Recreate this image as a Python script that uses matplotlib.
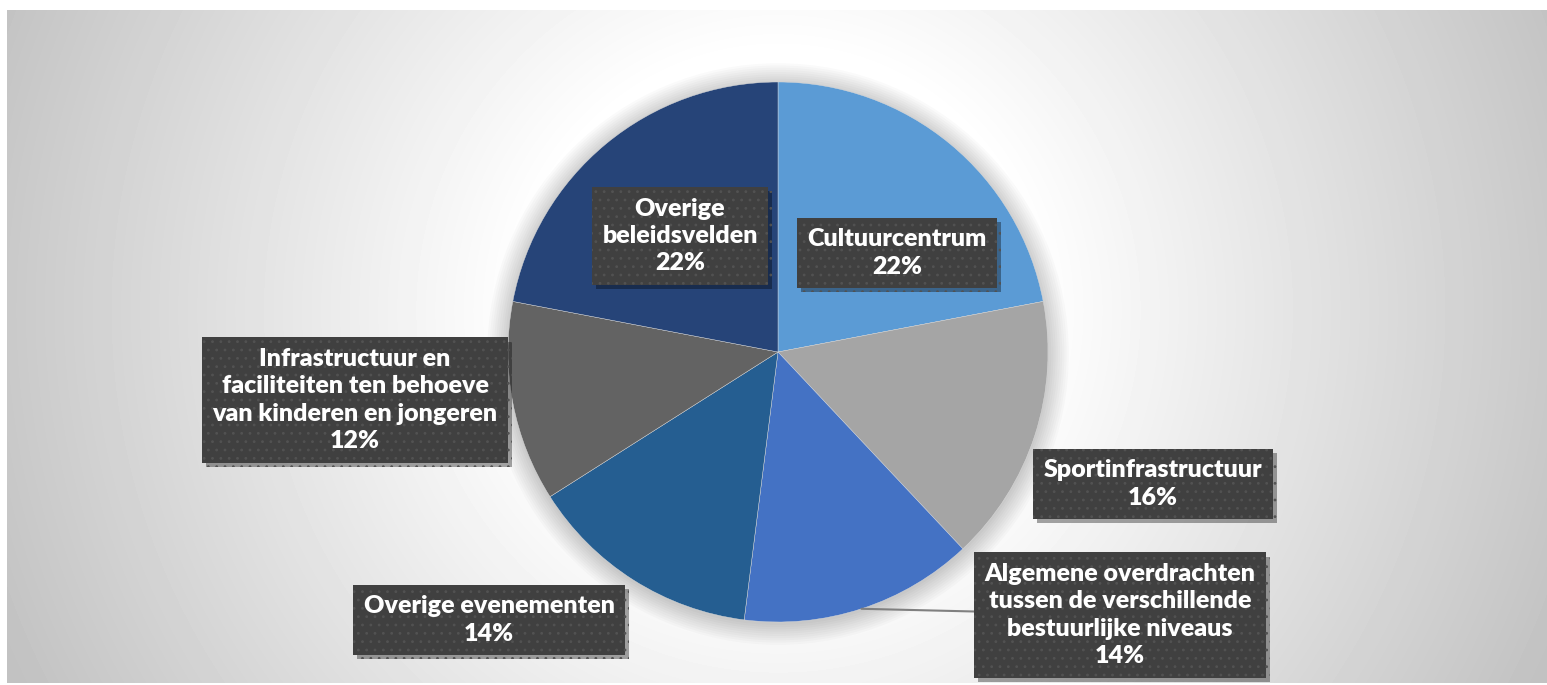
import matplotlib.pyplot as plt
import matplotlib.patheffects as pe
import matplotlib.colors as mcolors
from matplotlib.patches import Circle
import numpy as np

plt.rcParams['font.family'] = ['Lato', 'DejaVu Sans']
plt.rcParams['hatch.color'] = '#525252'
plt.rcParams['hatch.linewidth'] = 0.8

# data
names = ['Cultuurcentrum',
         'Sportinfrastructuur',
         'Algemene overdrachten\ntussen de verschillende\nbestuurlijke niveaus',
         'Overige evenementen',
         'Infrastructuur en\nfaciliteiten ten behoeve\nvan kinderen en jongeren',
         'Overige\nbeleidsvelden']
shares = [22, 16, 14, 14, 12, 22]

colors = ['#5B9BD5', '#A5A5A5', '#4472C4', '#255E91', '#636363', '#264478']
# label box centres, pixels relative to pie centre (y up)
label_pos = [(119, 99), (375, -132), (342, -263), (-289, -268), (-423, -48), (-98, 116)]
leader = [False, False, True, False, False, False]

W, H = 1547, 685
fig = plt.figure(figsize=(W / 100, H / 100), dpi=100)
fig.patch.set_facecolor('white')

# background: radial grey gradient
bg = fig.add_axes([7 / W, 2 / H, 1540 / W, 673 / H])
bx, by = np.meshgrid(np.arange(1540), np.arange(673))
dist = np.hypot(bx - 771, by - 300) / 780.0
v = 1.0 - (1.0 - 0.76) * np.clip((dist - 0.33) / (1.08 - 0.33), 0, 1)
bg.imshow(v, cmap='gray', vmin=0, vmax=1, aspect='auto', interpolation='bilinear')
bg.axis('off')

ax = fig.add_axes([0, 0, 1, 1])
ax.patch.set_visible(False)
R = 270

# soft shadow around the pie
for k in range(10):
    ax.add_patch(Circle((0, -2), R + 1 + k * 2.2, color='#000000', alpha=0.018, lw=0, zorder=0))

wedges, _ = ax.pie(shares, colors=colors, startangle=90, counterclock=False,
                   radius=R, center=(0, 0),
                   wedgeprops=dict(linewidth=0.3, edgecolor='#dcdcdc'))

for w, name, pct, pos, lead in zip(wedges, names, shares, label_pos, leader):
    txt = '%s\n%d%%' % (name, pct)
    bbox = dict(boxstyle='square,pad=0.42', fc='#404040', ec=None, lw=0, hatch='..')
    if lead:
        mid = np.deg2rad((w.theta1 + w.theta2) / 2)
        xy = (R * np.cos(mid), R * np.sin(mid))
        t = ax.annotate(txt, xy=xy, xytext=pos, ha='center', va='center',
                        color='white', fontsize=18, fontweight='heavy',
                        linespacing=1.3, bbox=bbox, zorder=5,
                        arrowprops=dict(arrowstyle='-', color='#808080', lw=1.5,
                                        shrinkA=0, shrinkB=0))
    else:
        t = ax.text(pos[0], pos[1], txt, ha='center', va='center',
                    color='white', fontsize=18, fontweight='heavy',
                    linespacing=1.3, bbox=bbox, zorder=5)
    bp = t.get_bbox_patch()
    bp._hatch_color = mcolors.to_rgba('#525252')
    bp.set_path_effects([
        pe.SimplePatchShadow(offset=(3, -3), shadow_rgbFace='black', alpha=0.35),
        pe.Normal()])

ax.set_xlim(-778, W - 778)
ax.set_ylim(-(H - 352), 352)
ax.axis('off')

fig.savefig('out.png', dpi=100)
